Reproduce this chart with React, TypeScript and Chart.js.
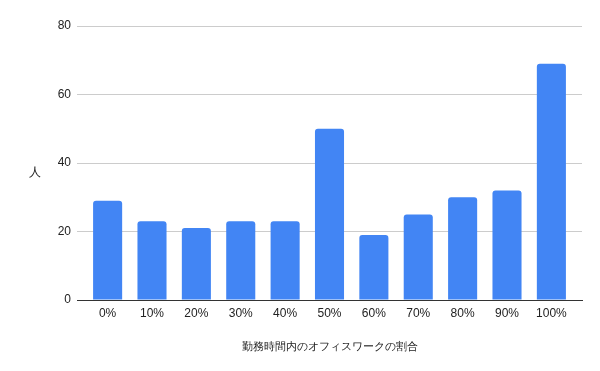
import React, { useEffect, useRef } from "react";
import { Chart, registerables } from "chart.js";

Chart.register(...registerables);

const categories = ["0%", "10%", "20%", "30%", "40%", "50%", "60%", "70%", "80%", "90%", "100%"];
const counts = [29, 23, 21, 23, 23, 50, 19, 25, 30, 32, 69];
const yTicks = [0, 20, 40, 60, 80];
const xTitle = "勤務時間内のオフィスワークの割合";
const yTitle = "人";

const FONT = "'Liberation Sans', Arial, sans-serif";

const yTitlePlugin = {
  id: "yTitleHorizontal",
  afterDraw(chart: any) {
    const { ctx, chartArea } = chart;
    ctx.save();
    ctx.font = `12px ${FONT}`;
    ctx.fillStyle = "#222222";
    ctx.textAlign = "center";
    ctx.textBaseline = "middle";
    ctx.fillText(yTitle, 35, (chartArea.top + chartArea.bottom) / 2 + 10);
    ctx.restore();
  },
};

export default function App() {
  const ref = useRef<HTMLCanvasElement | null>(null);
  useEffect(() => {
    document.body.style.margin = "0";
    if (!ref.current) return;
    const chart = new Chart(ref.current, {
      type: "bar",
      data: {
        datasets: [
          {
            data: counts.map((v, i) => ({ x: i, y: v })),
            backgroundColor: "#4285F4",
            borderRadius: 3,
            barPercentage: 0.655,
            categoryPercentage: 1,
          },
        ],
      },
      options: {
        animation: false,
        responsive: false,
        layout: { padding: { top: 26, right: 18, left: 0, bottom: 0 } },
        plugins: { legend: { display: false }, tooltip: { enabled: false } },
        scales: {
          x: {
            type: "linear",
            min: -0.69,
            max: 10.69,
            offset: false,
            afterFit: (s: any) => {
              s.height = 71;
            },
            afterBuildTicks: (s: any) => {
              s.ticks = categories.map((_, i) => ({ value: i }));
            },
            grid: { display: false, drawTicks: false, offset: false },
            border: { display: true, color: "#333333", width: 1 },
            ticks: {
              padding: 6,
              color: "#222222",
              font: { family: FONT, size: 12 },
              callback: (v: any) => categories[v] ?? "",
            },
            title: {
              display: true,
              text: xTitle,
              color: "#222222",
              font: { family: FONT, size: 11.4 },
              padding: { top: 0, bottom: 17 },
            },
          },
          y: {
            min: 0,
            max: 80,
            afterFit: (s: any) => {
              s.width = 77;
            },
            afterBuildTicks: (s: any) => {
              s.ticks = yTicks.map((v) => ({ value: v }));
            },
            grid: { color: "#cccccc", drawTicks: false },
            border: { display: false },
            ticks: {
              padding: 6,
              color: "#222222",
              font: { family: FONT, size: 12 },
            },
          },
        },
      },
      plugins: [yTitlePlugin],
    } as any);
    return () => chart.destroy();
  }, []);
  return <canvas ref={ref} width={600} height={371} style={{ display: "block" }} />;
}
